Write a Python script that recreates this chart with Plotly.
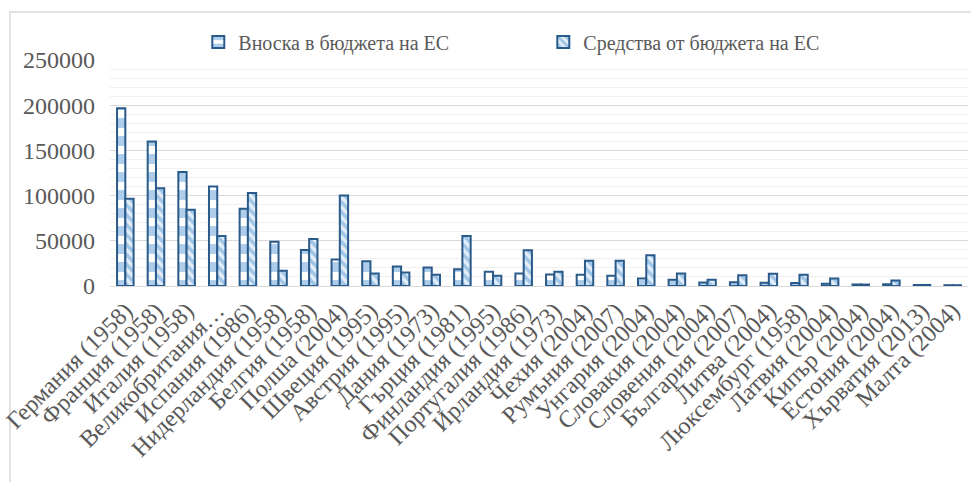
import plotly.graph_objects as go

categories = ["Германия (1958)", "Франция (1958)", "Италия (1958)", "Великобритания…",
              "Испания (1986)", "Нидерландия (1958)", "Белгия (1958)", "Полша (2004)",
              "Швеция (1995)", "Австрия (1995)", "Дания (1973)", "Гърция (1981)",
              "Финландия (1995)", "Португалия (1986)", "Ирландия (1973)", "Чехия (2004)",
              "Румъния (2007)", "Унгария (2004)", "Словакия (2004)", "Словения (2004)",
              "България (2007)", "Литва (2004)", "Люксембург (1958)", "Латвия (2004)",
              "Кипър (2004)", "Естония (2004)", "Хърватия (2013)", "Малта (2004)"]

contribution = [196500, 159800, 126000, 110000, 85500, 49000, 39800, 29200,
                27400, 21600, 20500, 18600, 15700, 13900, 12800, 12400,
                11300, 8400, 6900, 4000, 4200, 3600, 3200, 2600,
                1700, 1900, 1100, 900]
receipts = [96500, 108200, 84400, 55200, 103000, 16800, 51900, 100100,
            13900, 15000, 12400, 55200, 11300, 39500, 15700, 27800,
            27800, 34000, 13900, 6800, 12000, 13500, 12500, 8400,
            1600, 6200, 1200, 900]

yticks = [0, 50000, 100000, 150000, 200000, 250000]

font_family = "Liberation Serif, Times New Roman, serif"
grey_text = "#595959"
blue = "#5B9BD5"
edge = "#2A5A8A"

fig = go.Figure()
fig.add_trace(go.Bar(
    name="Вноска в бюджета на ЕС", x=categories, y=contribution,
    marker=dict(color="white", line=dict(color=edge, width=2),
                pattern=dict(shape="-", fgcolor=blue, bgcolor="white",
                             size=18, solidity=0.55, fillmode="overlay")),
))
fig.add_trace(go.Bar(
    name="Средства от бюджета на ЕС", x=categories, y=receipts,
    marker=dict(color="white", line=dict(color=edge, width=2),
                pattern=dict(shape="\\", fgcolor=blue, bgcolor="#E3EEF8",
                             size=7, solidity=0.5, fillmode="overlay")),
))

fig.update_layout(
    width=971, height=482,
    margin=dict(l=110, r=3, t=60, b=196, autoexpand=False),
    paper_bgcolor="white", plot_bgcolor="white",
    barmode="group", bargap=0.46, bargroupgap=0.0,
    font=dict(family=font_family, color=grey_text, size=20),
    legend=dict(orientation="h", x=0.505, xanchor="center",
                y=0.913, yanchor="middle", yref="container",
                font=dict(size=20, color=grey_text), itemwidth=30,
                entrywidth=300, tracegroupgap=0),
    showlegend=True,
    shapes=[dict(type="rect", xref="paper", yref="paper",
                 x0=-0.1166, x1=1.02, y0=-0.9, y1=1.212,
                 line=dict(color="#D9D9D9", width=1.5), fillcolor="rgba(0,0,0,0)",
                 layer="below")],
)
fig.update_xaxes(tickangle=-45, tickfont=dict(size=24, color=grey_text),
                 showgrid=False, showline=True, linecolor="#D9D9D9", linewidth=1,
                 ticks="", automargin=False)
fig.update_yaxes(range=[0, 250000], tickvals=yticks, ticktext=[str(v) for v in yticks],
                 tickfont=dict(size=24, color=grey_text), automargin=False,
                 ticklabelstandoff=14,
                 showgrid=True, gridcolor="#D9D9D9", gridwidth=1.3,
                 zeroline=False, showline=False, ticks="",
                 minor=dict(dtick=10000, showgrid=True, gridcolor="#F0F0F0", gridwidth=1))

fig.write_html("out.html", config={"displayModeBar": False},
               post_script="document.body.style.margin='0';")
